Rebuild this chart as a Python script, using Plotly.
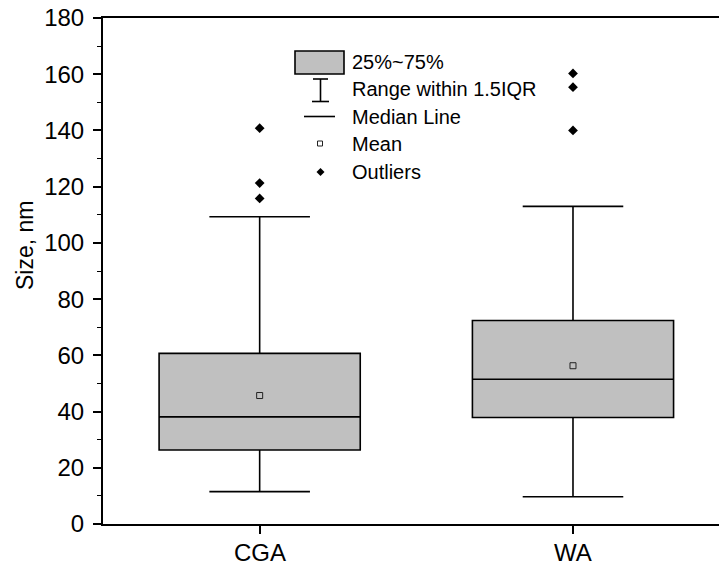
import plotly.graph_objects as go

# Particle size statistics per sample (nm)
categories = ["CGA", "WA"]
q1 = [26.3, 37.9]
median = [38.1, 51.5]
q3 = [60.7, 72.4]
lower_whisker = [11.5, 9.7]
upper_whisker = [109.3, 113.0]
means = [45.7, 56.3]
outliers = {
    "CGA": [140.8, 121.3, 115.8],
    "WA": [160.3, 155.4, 140.0],
}
y_ticks = [0, 20, 40, 60, 80, 100, 120, 140, 160, 180]

W, H = 719, 567
ML, MR, MT, MB = 103, 0, 18, 43
PW, PH = W - ML - MR, H - MT - MB
FONT = "Liberation Sans, Arial, sans-serif"
BOX_FILL = "#c0c0c0"


def px(x):
    return (x - ML) / PW


def py(y):
    return (H - MB - y) / PH


fig = go.Figure()

fig.add_trace(go.Box(
    x=categories,
    q1=q1, median=median, q3=q3,
    lowerfence=lower_whisker, upperfence=upper_whisker,
    boxpoints=False,
    width=0.642,
    whiskerwidth=0.5,
    fillcolor=BOX_FILL,
    line=dict(color="black", width=1.6),
    showlegend=False,
    hoverinfo="skip",
))

fig.add_trace(go.Scatter(
    x=categories, y=means, mode="markers",
    marker=dict(symbol="square", size=6, color=BOX_FILL,
                line=dict(color="#222", width=1)),
    showlegend=False, hoverinfo="skip",
))

ox, oy = [], []
for cat in categories:
    for v in outliers[cat]:
        ox.append(cat)
        oy.append(v)
fig.add_trace(go.Scatter(
    x=ox, y=oy, mode="markers",
    marker=dict(symbol="diamond", size=7.5, color="black"),
    showlegend=False, hoverinfo="skip",
))

# Hand-built key in the upper middle of the plot
shapes = []
annotations = []
line_k = dict(color="black", width=1.6)
shapes.append(dict(type="rect", xref="paper", yref="paper",
                   x0=px(295), x1=px(344), y0=py(74), y1=py(51),
                   fillcolor=BOX_FILL, line=line_k))
# whisker glyph
shapes.append(dict(type="line", xref="paper", yref="paper",
                   x0=px(320.5), x1=px(320.5), y0=py(79), y1=py(101.5), line=line_k))
shapes.append(dict(type="line", xref="paper", yref="paper",
                   x0=px(313), x1=px(328), y0=py(79), y1=py(79), line=line_k))
shapes.append(dict(type="line", xref="paper", yref="paper",
                   x0=px(312), x1=px(329), y0=py(101.5), y1=py(101.5), line=line_k))
# median glyph
shapes.append(dict(type="line", xref="paper", yref="paper",
                   x0=px(304), x1=px(335), y0=py(116.5), y1=py(116.5), line=line_k))
# mean glyph
shapes.append(dict(type="rect", xref="paper", yref="paper",
                   x0=px(317.5), x1=px(322.5), y0=py(146), y1=py(141),
                   fillcolor="white", line=dict(color="#222", width=1)))
# outlier glyph
cx, cy, r = 320.5, 172, 4
shapes.append(dict(type="path", xref="paper", yref="paper",
                   path=f"M {px(cx)},{py(cy - r)} L {px(cx + r)},{py(cy)} "
                        f"L {px(cx)},{py(cy + r)} L {px(cx - r)},{py(cy)} Z",
                   fillcolor="black", line=dict(color="black", width=0)))

key_labels = ["25%~75%", "Range within 1.5IQR", "Median Line", "Mean", "Outliers"]
key_y = [62, 89, 117, 144, 172]
for txt, yy in zip(key_labels, key_y):
    annotations.append(dict(
        text=txt, xref="paper", yref="paper", x=px(350), y=py(yy),
        xanchor="left", yanchor="middle", showarrow=False,
        font=dict(family=FONT, size=20, color="black"),
    ))

# category names under the x ticks
for cat in categories:
    annotations.append(dict(
        text=cat, xref="x", yref="paper", x=cat, y=py(552),
        xanchor="center", yanchor="middle", showarrow=False,
        font=dict(family=FONT, size=24, color="black"),
    ))

annotations.append(dict(
    text="Size, nm", xref="paper", yref="paper", x=px(25), y=py(246),
    xanchor="center", yanchor="middle", textangle=-90, showarrow=False,
    font=dict(family=FONT, size=23, color="black"),
))

fig.update_layout(
    width=W, height=H,
    margin=dict(l=ML, r=MR, t=MT, b=MB, pad=0, autoexpand=False),
    paper_bgcolor="white", plot_bgcolor="white",
    font=dict(family=FONT, size=23, color="black"),
    shapes=shapes, annotations=annotations,
    showlegend=False,
)
fig.update_xaxes(
    type="category", range=[-0.5, 1.466],
    showline=True, linecolor="black", linewidth=2, mirror=True,
    ticks="outside", ticklen=8, tickwidth=1.6, tickcolor="black",
    showgrid=False, zeroline=False, automargin=False,
    showticklabels=False,
)
fig.update_yaxes(
    range=[0, 180], tickvals=y_ticks,
    showline=True, linecolor="black", linewidth=2,
    ticks="outside", ticklen=8, tickwidth=1.6, tickcolor="black",
    minor=dict(dtick=10, ticks="outside", ticklen=4, tickwidth=1.4, tickcolor="black", showgrid=False),
    showgrid=False, zeroline=False, automargin=False,
    tickfont=dict(family=FONT, size=24),
    ticklabelstandoff=4,
)

fig.write_html("out.html")
